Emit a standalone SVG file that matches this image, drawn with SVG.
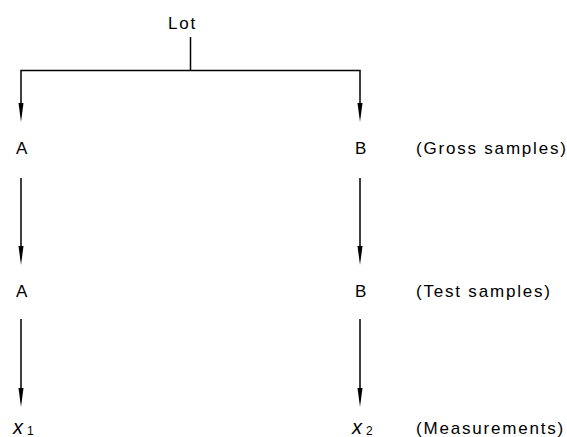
<svg xmlns="http://www.w3.org/2000/svg" width="567" height="437" viewBox="0 0 567 437">
<style>
.t{font-family:"Liberation Sans",Arial,sans-serif;font-size:17px;letter-spacing:1.8px;fill:#000}
.v{font-family:"Liberation Sans",Arial,sans-serif;font-size:20px;font-style:italic;fill:#000}
.s{font-family:"Liberation Sans",Arial,sans-serif;font-size:12px;fill:#000}
.c{stroke:#000;stroke-width:1.5;fill:none}
.h{fill:#000}
</style>
<g id="connectors">
<line class="c" x1="190.5" y1="37" x2="190.5" y2="70.5"/>
<polyline class="c" points="21,110 21,70.5 360,70.5 360,110"/>
<polygon class="h" points="18.5,103 23.5,103 21,122"/>
<polygon class="h" points="357.5,103 362.5,103 360,122"/>
<line class="c" x1="21" y1="178" x2="21" y2="250"/>
<polygon class="h" points="18.5,246 23.5,246 21,265"/>
<line class="c" x1="360" y1="178" x2="360" y2="250"/>
<polygon class="h" points="357.5,246 362.5,246 360,265"/>
<line class="c" x1="21" y1="319" x2="21" y2="392"/>
<polygon class="h" points="18.5,388 23.5,388 21,407"/>
<line class="c" x1="360" y1="319" x2="360" y2="392"/>
<polygon class="h" points="357.5,388 362.5,388 360,407"/>
</g>
<g id="lot"><text class="t" x="168" y="29">Lot</text></g>
<g id="gross-a"><text class="t" x="16" y="154">A</text></g>
<g id="gross-b"><text class="t" x="355" y="154">B</text></g>
<g id="gross-label"><text class="t" x="416" y="154">(Gross samples)</text></g>
<g id="test-a"><text class="t" x="16" y="297">A</text></g>
<g id="test-b"><text class="t" x="355" y="297">B</text></g>
<g id="test-label"><text class="t" x="416" y="297">(Test samples)</text></g>
<g id="meas-1"><text x="13" y="434"><tspan class="v">x</tspan><tspan class="s" dx="4" dy="1">1</tspan></text></g>
<g id="meas-2"><text x="352" y="434"><tspan class="v">x</tspan><tspan class="s" dx="4" dy="1">2</tspan></text></g>
<g id="meas-label"><text class="t" x="416" y="434">(Measurements)</text></g>
</svg>
